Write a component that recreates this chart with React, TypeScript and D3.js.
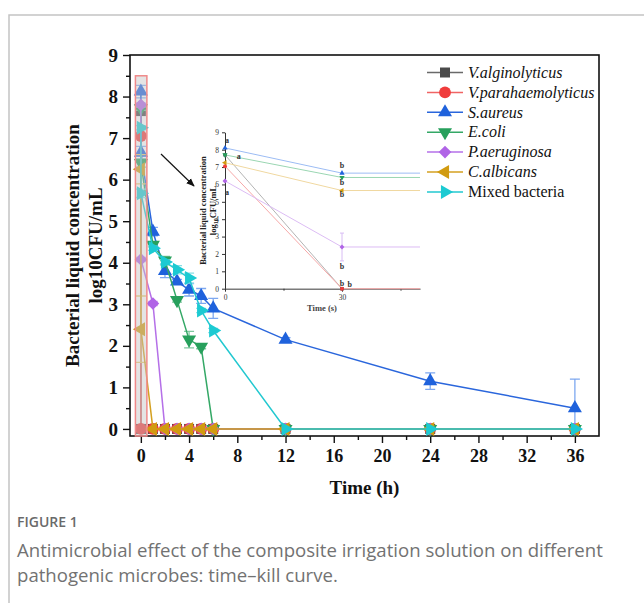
import { useEffect, useRef } from "react";
import * as d3 from "d3";

// time points of the main chart (h); the second one is the 30 s sample
const timeH = [0, 0.0083, 1, 2, 3, 4, 5, 6, 12, 24, 36];
const seriesNames = [
  "V.alginolyticus",
  "V.parahaemolyticus",
  "S.aureus",
  "E.coli",
  "P.aeruginosa",
  "C.albicans",
  "Mixed bacteria",
];
const valgValues = [7.65, 0, 0, 0, 0, 0, 0, 0, 0, 0, 0];
const vparaValues = [7.05, 0, 0, 0, 0, 0, 0, 0, 0, 0, 0];
const saureusValues = [8.12, 6.65, 4.75, 3.8, 3.55, 3.35, 3.2, 2.9, 2.15, 1.15, 0.5];
const ecoliValues = [7.72, 6.4, 4.43, 4.05, 3.1, 2.15, 1.98, 0, 0, 0, 0];
const paerValues = [7.8, 4.08, 3.02, 0, 0, 0, 0, 0, 0, 0, 0];
const calbValues = [6.25, 2.4, 0, 0, 0, 0, 0, 0, 0, 0, 0];
const mixedValues = [7.25, 5.67, 4.35, 4.02, 3.83, 3.63, 2.85, 2.37, 0, 0, 0];

const valgErrors = [0.05, 0, 0, 0, 0, 0, 0, 0, 0, 0, 0];
const vparaErrors = [0.05, 0, 0, 0, 0, 0, 0, 0, 0, 0, 0];
const saureusErrors = [0.15, 0.15, 0.1, 0.16, 0.05, 0.15, 0.18, 0.24, 0.05, 0.2, 0.7];
const ecoliErrors = [0.05, 0.1, 0.05, 0.1, 0.05, 0.2, 0.05, 0, 0, 0, 0];
const paerErrors = [0.05, 0.05, 0.05, 0, 0, 0, 0, 0, 0, 0, 0];
const calbErrors = [0.35, 0.8, 0, 0, 0, 0, 0, 0, 0, 0, 0];
const mixedErrors = [0.05, 0.1, 0.05, 0.05, 0.1, 0.12, 0.05, 0.05, 0, 0, 0];

const xTickValues = [0, 4, 8, 12, 16, 20, 24, 28, 32, 36];
const xMinorValues = [2, 6, 10, 14, 18, 22, 26, 30, 34];
const yTickValues = [0, 1, 2, 3, 4, 5, 6, 7, 8, 9];
const yMinorValues = [0.5, 1.5, 2.5, 3.5, 4.5, 5.5, 6.5, 7.5, 8.5];

// inset: first 30 s
const insetTimeS = [0, 30, 60];
const insetValg = [7.7, 0, 0];
const insetVpara = [7.05, 0, 0];
const insetSaureus = [8.1, 6.65, 6.65];
const insetEcoli = [7.7, 6.4, 6.4];
const insetPaer = [6.2, 2.4, 2.4];
const insetCalb = [7.25, 5.65, 5.65];
const insetPaerErrors = [0, 0.8, 0];
const insetYTicks = [0, 1, 2, 3, 4, 5, 6, 7, 8, 9];
const insetXTicks = [0, 30];
const insetXMinor = [15, 45];
const insetLetters = ["a", "a", "a", "b", "b", "b", "b", "b", "b"];
const insetLetterT = [0.5, 3.5, 0.5, 30, 30, 30, 30, 30, 32];
const insetLetterV = [8.55, 7.6, 5.55, 7.1, 6.1, 5.45, 1.3, 0.3, 0.25];

const serif = "'Liberation Serif', 'Times New Roman', serif";

export default function App() {
  const svgRef = useRef<SVGSVGElement>(null);

  useEffect(() => {
    const svg = d3.select(svgRef.current);
    svg.selectAll("*").remove();

    const series = [
      { name: seriesNames[0], values: valgValues, errors: valgErrors, inset: insetValg, color: "#4a4a4a", line: "#6a6a6a", light: "#aaaaaa", pale: "#b4b4b4", symbol: d3.symbolSquare, rot: 0, size: 100 },
      { name: seriesNames[1], values: vparaValues, errors: vparaErrors, inset: insetVpara, color: "#f03c3c", line: "#f06464", light: "#f4a0a0", pale: "#f6a8a8", symbol: d3.symbolCircle, rot: 0, size: 110 },
      { name: seriesNames[2], values: saureusValues, errors: saureusErrors, inset: insetSaureus, color: "#1f62dc", line: "#2a66dc", light: "#7ea8f0", pale: "#9cbcf4", symbol: d3.symbolTriangle, rot: 0, size: 85 },
      { name: seriesNames[3], values: ecoliValues, errors: ecoliErrors, inset: insetEcoli, color: "#27a05c", line: "#34a866", light: "#80c8a0", pale: "#9ad6b2", symbol: d3.symbolTriangle, rot: 180, size: 85 },
      { name: seriesNames[4], values: paerValues, errors: paerErrors, inset: insetPaer, color: "#b064e6", line: "#b570e8", light: "#d4b0f0", pale: "#dcbcf4", symbol: d3.symbolSquare, rot: 45, size: 80 },
      { name: seriesNames[5], values: calbValues, errors: calbErrors, inset: insetCalb, color: "#d19b10", line: "#d4a020", light: "#e6c870", pale: "#f0d8a0", symbol: d3.symbolTriangle, rot: -90, size: 85 },
      { name: seriesNames[6], values: mixedValues, errors: mixedErrors, inset: null, color: "#1ccad2", line: "#22c8d0", light: "#86e0e6", pale: "#9ee6ea", symbol: d3.symbolTriangle, rot: 90, size: 85 },
    ];

    // outer figure frame
    svg.append("path")
      .attr("d", "M9,603 V15 H644")
      .attr("fill", "none")
      .attr("stroke", "#c4c4c4")
      .attr("stroke-width", 1.5);

    const x = d3.scaleLinear().domain([-0.9, 38]).range([130, 599]);
    const y = d3.scaleLinear().domain([-0.17, 9]).range([436, 55]);

    const bold = (g: any, size: number) =>
      g.selectAll("text")
        .attr("font-family", serif)
        .attr("font-weight", "bold")
        .attr("font-size", size)
        .attr("fill", "#111");

    // axes
    const gx = svg.append("g")
      .attr("transform", `translate(0,${y.range()[0]})`)
      .call(d3.axisBottom(x).tickValues(xTickValues).tickSize(7).tickSizeOuter(0).tickPadding(6));
    gx.select(".domain").remove();
    gx.selectAll("line").attr("stroke", "#111").attr("stroke-width", 1.4);
    bold(gx, 18);

    const gxm = svg.append("g")
      .attr("transform", `translate(0,${y.range()[0]})`)
      .call(d3.axisBottom(x).tickValues(xMinorValues).tickSize(4).tickFormat(() => ""));
    gxm.select(".domain").remove();
    gxm.selectAll("line").attr("stroke", "#111").attr("stroke-width", 1.4);

    const gy = svg.append("g")
      .attr("transform", `translate(${x.range()[0]},0)`)
      .call(d3.axisLeft(y).tickValues(yTickValues).tickSize(7).tickSizeOuter(0).tickPadding(5));
    gy.select(".domain").remove();
    gy.selectAll("line").attr("stroke", "#111").attr("stroke-width", 1.4);
    bold(gy, 19);

    const gym = svg.append("g")
      .attr("transform", `translate(${x.range()[0]},0)`)
      .call(d3.axisLeft(y).tickValues(yMinorValues).tickSize(4).tickFormat(() => ""));
    gym.select(".domain").remove();
    gym.selectAll("line").attr("stroke", "#111").attr("stroke-width", 1.4);

    svg.append("rect")
      .attr("x", x.range()[0])
      .attr("y", y.range()[1])
      .attr("width", x.range()[1] - x.range()[0])
      .attr("height", y.range()[0] - y.range()[1])
      .attr("fill", "none")
      .attr("stroke", "#111")
      .attr("stroke-width", 1.6);

    // axis titles
    svg.append("text")
      .attr("transform", `translate(79,${(y.range()[0] + y.range()[1]) / 2}) rotate(-90)`)
      .attr("text-anchor", "middle")
      .attr("font-family", serif)
      .attr("font-weight", "bold")
      .attr("font-size", 19)
      .attr("fill", "#111")
      .text("Bacterial liquid concentration");
    svg.append("text")
      .attr("transform", `translate(102,${(y.range()[0] + y.range()[1]) / 2}) rotate(-90)`)
      .attr("text-anchor", "middle")
      .attr("font-family", serif)
      .attr("font-weight", "bold")
      .attr("font-size", 19)
      .attr("fill", "#111")
      .text("log10CFU/mL");
    svg.append("text")
      .attr("x", (x.range()[0] + x.range()[1]) / 2)
      .attr("y", 494)
      .attr("text-anchor", "middle")
      .attr("font-family", serif)
      .attr("font-weight", "bold")
      .attr("font-size", 19)
      .attr("fill", "#111")
      .text("Time (h)");

    // ---- inset ----
    const ix = d3.scaleLinear().domain([0, 50]).range([225, 420]);
    const iy = d3.scaleLinear().domain([0, 9]).range([288.7, 132.3]);
    const inset = svg.append("g");

    svg.append("clipPath").attr("id", "insetClip")
      .append("rect")
      .attr("x", ix.range()[0] - 5).attr("y", iy.range()[1] - 5)
      .attr("width", ix.range()[1] - ix.range()[0] + 5)
      .attr("height", iy.range()[0] - iy.range()[1] + 10);

    const giy = inset.append("g")
      .attr("transform", `translate(${ix.range()[0]},0)`)
      .call(d3.axisLeft(iy).tickValues(insetYTicks).tickSize(3).tickSizeOuter(0).tickPadding(3));
    giy.select(".domain").attr("stroke", "#333");
    giy.selectAll("line").attr("stroke", "#333");
    giy.selectAll("text").attr("font-family", serif).attr("font-size", 7.5).attr("fill", "#333");

    const gix = inset.append("g")
      .attr("transform", `translate(0,${iy.range()[0]})`)
      .call(d3.axisBottom(ix).tickValues(insetXTicks).tickSize(3).tickSizeOuter(0).tickPadding(3));
    gix.select(".domain").attr("stroke", "#7a7a7a").attr("stroke-width", 1.6);
    gix.selectAll("line").attr("stroke", "#333");
    gix.selectAll("text").attr("font-family", serif).attr("font-size", 7.5).attr("fill", "#333");
    const gixm = inset.append("g")
      .attr("transform", `translate(0,${iy.range()[0]})`)
      .call(d3.axisBottom(ix).tickValues(insetXMinor).tickSize(2).tickFormat(() => ""));
    gixm.select(".domain").remove();
    gixm.selectAll("line").attr("stroke", "#333");

    const midIy = (iy.range()[0] + iy.range()[1]) / 2;
    inset.append("text")
      .attr("transform", `translate(206,${midIy}) rotate(-90)`)
      .attr("text-anchor", "middle")
      .attr("font-family", serif).attr("font-weight", "bold").attr("font-size", 8.5).attr("fill", "#222")
      .text("Bacterial liquid concentration");
    const t2 = inset.append("text")
      .attr("transform", `translate(216,${midIy}) rotate(-90)`)
      .attr("text-anchor", "middle")
      .attr("font-family", serif).attr("font-weight", "bold").attr("font-size", 8.5).attr("fill", "#222");
    t2.append("tspan").text("log");
    t2.append("tspan").attr("font-size", 6).attr("dy", 2).text("10");
    t2.append("tspan").attr("dy", -2).text("CFU/mL");
    inset.append("text")
      .attr("x", 322).attr("y", 311)
      .attr("text-anchor", "middle")
      .attr("font-family", serif).attr("font-weight", "bold").attr("font-size", 8.5).attr("fill", "#444")
      .text("Time (s)");

    const insetData = inset.append("g").attr("clip-path", "url(#insetClip)");
    const iline = d3.line<number>().x((_, i) => ix(insetTimeS[i])).y(d => iy(d));
    series.forEach(s => {
      if (!s.inset) return;
      insetData.append("path")
        .attr("d", iline(s.inset))
        .attr("fill", "none")
        .attr("stroke", s.pale)
        .attr("stroke-width", 1);
    });
    // error bar on P.aeruginosa at 30 s
    insetPaerErrors.forEach((e, i) => {
      if (!e) return;
      const cx = ix(insetTimeS[i]);
      insetData.append("path")
        .attr("d", `M${cx},${iy(insetPaer[i] - e)}V${iy(insetPaer[i] + e)}M${cx - 2},${iy(insetPaer[i] - e)}h4M${cx - 2},${iy(insetPaer[i] + e)}h4`)
        .attr("stroke", "#d8bcf4").attr("fill", "none");
    });
    series.forEach(s => {
      if (!s.inset) return;
      s.inset.slice(0, 2).forEach((v, i) => {
        insetData.append("path")
          .attr("d", d3.symbol().type(s.symbol).size(12)())
          .attr("transform", `translate(${ix(insetTimeS[i])},${iy(v)}) rotate(${s.rot})`)
          .attr("fill", s.color);
      });
    });
    insetLetters.forEach((l, i) => {
      inset.append("text")
        .attr("x", ix(insetLetterT[i]))
        .attr("y", iy(insetLetterV[i]))
        .attr("dy", "0.35em")
        .attr("text-anchor", "middle")
        .attr("font-family", serif).attr("font-weight", "bold").attr("font-size", 8).attr("fill", "#333")
        .text(l);
    });

    // arrow pointing to the inset
    svg.append("defs").append("marker")
      .attr("id", "arrowHead")
      .attr("viewBox", "0 0 10 10")
      .attr("refX", 9).attr("refY", 5)
      .attr("markerWidth", 7).attr("markerHeight", 7)
      .attr("orient", "auto")
      .append("path").attr("d", "M0,1 L10,5 L0,9 z").attr("fill", "#111");
    svg.append("line")
      .attr("x1", 161).attr("y1", 154).attr("x2", 194).attr("y2", 186)
      .attr("stroke", "#111").attr("stroke-width", 1.2)
      .attr("marker-end", "url(#arrowHead)");

    // ---- main series ----
    const line = d3.line<number>().x((_, i) => x(timeH[i])).y(d => y(d));
    series.forEach(s => {
      const g = svg.append("g");
      s.errors.forEach((e, i) => {
        if (!e) return;
        const cx = x(timeH[i]);
        const lo = y(Math.max(0, s.values[i] - e));
        const hi = y(s.values[i] + e);
        g.append("path")
          .attr("d", `M${cx},${lo}V${hi}M${cx - 5},${lo}h10M${cx - 5},${hi}h10`)
          .attr("fill", "none")
          .attr("stroke", s.light)
          .attr("stroke-width", 1.3);
      });
      g.append("path")
        .attr("d", line(s.values))
        .attr("fill", "none")
        .attr("stroke", s.line)
        .attr("stroke-width", 1.5);
      s.values.forEach((v, i) => {
        g.append("path")
          .attr("d", d3.symbol().type(s.symbol).size(s.size)())
          .attr("transform", `translate(${x(timeH[i])},${y(v)}) rotate(${s.rot})`)
          .attr("fill", s.color);
      });
    });

    // shaded band over the 0-30 s samples
    svg.append("rect")
      .attr("x", x(-0.45))
      .attr("y", y(8.5))
      .attr("width", x(0.5) - x(-0.45))
      .attr("height", y.range()[0] - y(8.5))
      .attr("fill", "#c4c4c4")
      .attr("fill-opacity", 0.45)
      .attr("stroke", "#f08a8a")
      .attr("stroke-width", 1.5);

    // legend
    const legend = svg.append("g");
    series.forEach((s, i) => {
      const ly = 72.5 + i * 19.9;
      legend.append("line")
        .attr("x1", 427).attr("x2", 463).attr("y1", ly).attr("y2", ly)
        .attr("stroke", s.line).attr("stroke-width", 1.5);
      legend.append("path")
        .attr("d", d3.symbol().type(s.symbol).size(s.size)())
        .attr("transform", `translate(445,${ly}) rotate(${s.rot})`)
        .attr("fill", s.color);
      legend.append("text")
        .attr("x", 468).attr("y", ly).attr("dy", "0.33em")
        .attr("font-family", serif)
        .attr("font-style", i < 6 ? "italic" : "normal")
        .attr("font-size", 16)
        .attr("fill", "#111")
        .text(s.name);
    });

    // caption
    svg.append("text")
      .attr("x", 17).attr("y", 527)
      .attr("font-family", "'Open Sans', sans-serif")
      .attr("font-weight", 600)
      .attr("font-size", 14)
      .attr("fill", "#6a6a6a")
      .text("FIGURE 1");
    svg.append("text")
      .attr("x", 17).attr("y", 557)
      .attr("font-family", "'Open Sans', sans-serif")
      .attr("font-size", 18.6)
      .attr("fill", "#727272")
      .text("Antimicrobial effect of the composite irrigation solution on different");
    svg.append("text")
      .attr("x", 17).attr("y", 582)
      .attr("font-family", "'Open Sans', sans-serif")
      .attr("font-size", 18.6)
      .attr("fill", "#727272")
      .text("pathogenic microbes: time\u2013kill curve.");
  }, []);

  return (
    <svg
      ref={svgRef}
      width={644}
      height={603}
      style={{ position: "absolute", left: 0, top: 0, background: "#fff" }}
    />
  );
}
